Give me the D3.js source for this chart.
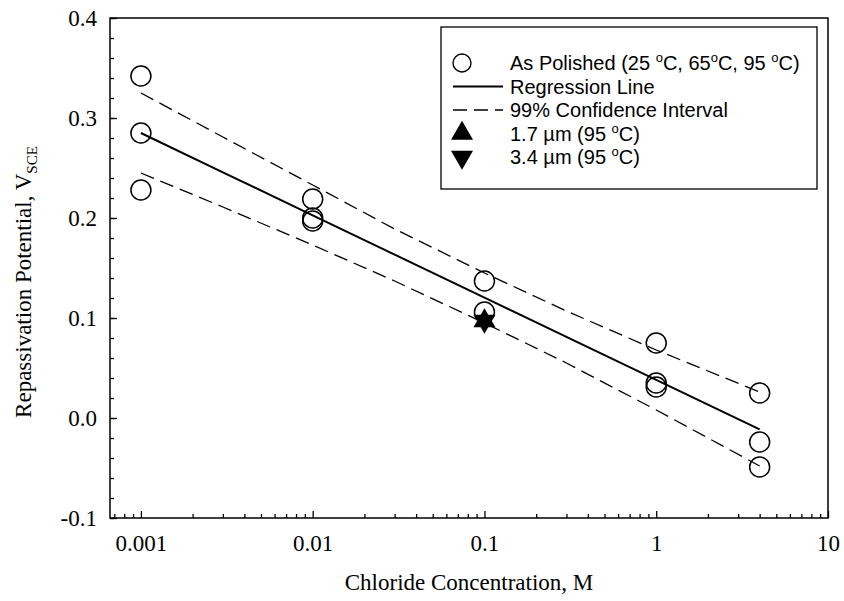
<!DOCTYPE html>
<html>
<head>
<meta charset="utf-8">
<script src="https://cdn.jsdelivr.net/npm/d3@7"></script>
<style>
    body { margin: 0; background: #fff; }
</style>
</head>
<body>
<div id="chart"></div>
<script>
// As polished data, chloride concentration (M) vs repassivation potential (V_SCE)
const polishedConc = [0.001, 0.001, 0.001, 0.01, 0.01, 0.01, 0.1, 0.1, 1, 1, 1, 4, 4, 4];
const polishedPot = [0.342, 0.285, 0.228, 0.219, 0.200, 0.197, 0.137, 0.106, 0.075, 0.035, 0.031, 0.025, -0.024, -0.049];

// cold worked samples at 95 C
const upConc = [0.1];
const upPot = [0.097];
const downConc = [0.1];
const downPot = [0.097];

// regression + 99% confidence band
const lineConc = [0.001, 0.003, 0.01, 0.03, 0.1, 0.3, 1, 4];
const regPot = [0.285, 0.2457, 0.2027, 0.1634, 0.1204, 0.0811, 0.0381, -0.0113];
const upperPot = [0.325, 0.281, 0.233, 0.189, 0.145, 0.107, 0.068, 0.026];
const lowerPot = [0.245, 0.211, 0.173, 0.137, 0.095, 0.055, 0.008, -0.048];

const xTicks = [0.001, 0.01, 0.1, 1, 10];
const yTicks = [-0.1, 0.0, 0.1, 0.2, 0.3, 0.4];

const WIDTH = 844, HEIGHT = 601;
const margin = { top: 18, right: 16, bottom: 83, left: 110 };
const innerWidth = WIDTH - margin.left - margin.right;
const innerHeight = HEIGHT - margin.top - margin.bottom;
const SERIF = "'Liberation Serif', 'Times New Roman', serif";
const SANS = "'Liberation Sans', Arial, Helvetica, sans-serif";

const svg = d3.select('#chart')
    .append('svg')
    .attr('width', WIDTH)
    .attr('height', HEIGHT);

const g = svg.append('g')
    .attr('transform', `translate(${margin.left}, ${margin.top})`);

const x = d3.scaleLog()
    .domain([Math.pow(10, -3.18), 10])
    .range([0, innerWidth]);

const y = d3.scaleLinear()
    .domain([-0.1, 0.4])
    .range([innerHeight, 0]);

// frame
g.append('rect')
    .attr('width', innerWidth)
    .attr('height', innerHeight)
    .attr('fill', 'none')
    .attr('stroke', 'black')
    .attr('stroke-width', 1.5);

// x minor ticks (2..9 in every decade), pointing inward
let xMinor = [];
for (let e = -4; e <= 0; e++) {
    for (let m = 2; m <= 9; m++) {
        const v = m * Math.pow(10, e);
        if (v >= x.domain()[0] && v <= 10) xMinor.push(v);
    }
}

const xAxis = g.append('g')
    .attr('transform', `translate(0, ${innerHeight})`);

xAxis.call(d3.axisBottom(x).tickValues(xMinor).tickSize(-4).tickFormat(''));
xAxis.selectAll('text').remove();
xAxis.append('g').call(d3.axisBottom(x).tickValues(xTicks).tickSize(-7).tickPadding(17)
    .tickFormat(d => d >= 1 ? d3.format('d')(d) : String(d)));
xAxis.selectAll('.domain').remove();

const yMinor = d3.range(-0.1, 0.4001, 0.02).map(v => +v.toFixed(2));
const yAxis = g.append('g');
yAxis.call(d3.axisLeft(y).tickValues(yMinor).tickSize(-4).tickFormat(''));
yAxis.selectAll('text').remove();
yAxis.append('g').call(d3.axisLeft(y).tickValues(yTicks).tickSize(-7).tickPadding(13)
    .tickFormat(d => d3.format('.1f')(d).replace('\u2212', '-')));
yAxis.selectAll('.domain').remove();

svg.selectAll('.tick line').attr('stroke', 'black').attr('stroke-width', 1.3);
svg.selectAll('.tick text')
    .attr('fill', 'black')
    .style('font-family', SERIF)
    .style('font-size', '23px');

// axis titles
svg.append('text')
    .attr('x', margin.left + innerWidth / 2)
    .attr('y', 590)
    .attr('text-anchor', 'middle')
    .style('font-family', SERIF)
    .style('font-size', '23px')
    .text('Chloride Concentration, M');

const yTitle = svg.append('text')
    .attr('transform', `translate(31, 282) rotate(-90)`)
    .attr('text-anchor', 'middle')
    .style('font-family', SERIF)
    .style('font-size', '23px');
yTitle.append('tspan').text('Repassivation Potential, V');
yTitle.append('tspan').attr('dy', 6).style('font-size', '15px').text('SCE');

// lines
const line = d3.line()
    .x(d => x(d[0]))
    .y(d => y(d[1]));

g.append('path')
    .datum(lineConc.map((c, i) => [c, upperPot[i]]))
    .attr('d', line)
    .attr('fill', 'none')
    .attr('stroke', 'black')
    .attr('stroke-width', 1.3)
    .attr('stroke-dasharray', '14,7');

g.append('path')
    .datum(lineConc.map((c, i) => [c, lowerPot[i]]))
    .attr('d', line)
    .attr('fill', 'none')
    .attr('stroke', 'black')
    .attr('stroke-width', 1.3)
    .attr('stroke-dasharray', '14,7');

g.append('path')
    .datum(lineConc.map((c, i) => [c, regPot[i]]))
    .attr('d', line)
    .attr('fill', 'none')
    .attr('stroke', 'black')
    .attr('stroke-width', 2);

// points
g.selectAll('circle.pol')
    .data(polishedConc.map((c, i) => [c, polishedPot[i]]))
    .enter()
    .append('circle')
    .attr('class', 'pol')
    .attr('cx', d => x(d[0]))
    .attr('cy', d => y(d[1]))
    .attr('r', 10)
    .attr('fill', 'none')
    .attr('stroke', 'black')
    .attr('stroke-width', 1.5);

const tri = d3.symbol().type(d3.symbolTriangle).size(210);

g.selectAll('path.up')
    .data(upConc.map((c, i) => [c, upPot[i]]))
    .enter()
    .append('path')
    .attr('class', 'up')
    .attr('d', tri)
    .attr('transform', d => `translate(${x(d[0])}, ${y(d[1])})`)
    .attr('fill', 'black');

g.selectAll('path.down')
    .data(downConc.map((c, i) => [c, downPot[i]]))
    .enter()
    .append('path')
    .attr('class', 'down')
    .attr('d', tri)
    .attr('transform', d => `translate(${x(d[0])}, ${y(d[1])}) rotate(180)`)
    .attr('fill', 'black');

// legend
const legend = svg.append('g').attr('transform', 'translate(441, 27)');
legend.append('rect')
    .attr('width', 376)
    .attr('height', 162)
    .attr('fill', 'white')
    .attr('stroke', 'black')
    .attr('stroke-width', 1.3);

const ROW = 23.5, TOP = 36, SYM_X = 21, TEXT_X = 69;
// '^o' marks a superscript degree sign
const items = [
    { kind: 'circle', label: ['As Polished (25 ', '^o', 'C, 65', '^o', 'C, 95 ', '^o', 'C)'] },
    { kind: 'solid', label: ['Regression Line'] },
    { kind: 'dash', label: ['99% Confidence Interval'] },
    { kind: 'up', label: ['1.7 \u00b5m (95 ', '^o', 'C)'] },
    { kind: 'down', label: ['3.4 \u00b5m (95 ', '^o', 'C)'] }
];

items.forEach((it, i) => {
    const cy = TOP + i * ROW;
    if (it.kind === 'circle') {
        legend.append('circle').attr('cx', SYM_X).attr('cy', cy).attr('r', 9)
            .attr('fill', 'none').attr('stroke', 'black').attr('stroke-width', 1.4);
    } else if (it.kind === 'solid' || it.kind === 'dash') {
        legend.append('line').attr('x1', 12).attr('x2', 62).attr('y1', cy).attr('y2', cy)
            .attr('stroke', 'black')
            .attr('stroke-width', it.kind === 'solid' ? 2 : 1.3)
            .attr('stroke-dasharray', it.kind === 'dash' ? '14,7' : null);
    } else {
        legend.append('path').attr('d', tri)
            .attr('transform', `translate(${SYM_X}, ${cy}) rotate(${it.kind === 'down' ? 180 : 0})`)
            .attr('fill', 'black');
    }
    const t = legend.append('text')
        .attr('x', TEXT_X)
        .attr('y', cy + 7)
        .style('font-family', SANS)
        .style('font-size', '20px');
    let shift = 0;
    it.label.forEach(s => {
        if (s === '^o') {
            t.append('tspan').attr('dy', -8).style('font-size', '13px').text('o');
            shift = 8;
        } else {
            t.append('tspan').attr('dy', shift).text(s);
            shift = 0;
        }
    });
});
</script>
</body>
</html>
